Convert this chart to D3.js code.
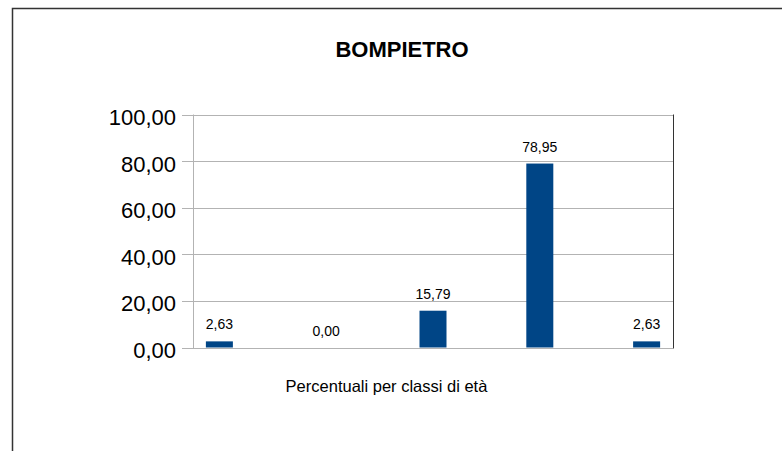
<!DOCTYPE html>
<html><head><meta charset="utf-8">
<script src="https://cdn.jsdelivr.net/npm/d3@7"></script>
<style>body{margin:0;background:#fff}svg{display:block}text{font-family:"Liberation Sans",Arial,sans-serif}</style>
</head><body><svg id="c" width="782" height="451"></svg>
<script>
const categories = ["0-14", "15-29", "30-44", "45-64", "65+"];
const values = [2.63, 0.00, 15.79, 78.95, 2.63];
const yTicks = [0, 20, 40, 60, 80, 100];
const title = "BOMPIETRO";
const xTitle = "Percentuali per classi di età";

const svg = d3.select("#c");
const L = 193, R = 673, T = 114.5, B = 347.5;
const fmt = v => d3.format(".2f")(v).replace(".", ",");

// outer frame
svg.append("path").attr("d", "M12.5,451 V8.5 H782").attr("fill", "none").attr("stroke", "#333").attr("stroke-width", 1.5);

const x = d3.scalePoint().domain(categories).range([L, R]).padding(0.247);
const y = d3.scaleLinear().domain([0, 100]).range([B, T]);

// gridlines
svg.append("g").selectAll("line").data(yTicks).join("line")
  .attr("x1", L - 11).attr("x2", R).attr("y1", d => Math.round(y(d)) + 0.5).attr("y2", d => Math.round(y(d)) + 0.5)
  .attr("stroke", "#b3b3b3").attr("stroke-width", 1);
// left axis
svg.append("line").attr("x1", L + 0.5).attr("x2", L + 0.5).attr("y1", T).attr("y2", B + 1).attr("stroke", "#b3b3b3");
// right border
svg.append("line").attr("x1", R + 0.5).attr("x2", R + 0.5).attr("y1", T).attr("y2", B + 1).attr("stroke", "#333");

// y labels
svg.append("g").selectAll("text").data(yTicks).join("text")
  .attr("x", 176).attr("y", d => y(d) + 10.5).attr("text-anchor", "end")
  .attr("font-size", 22).attr("fill", "#000").text(d => fmt(d));

// bars
const bw = 27;
svg.append("g").selectAll("rect").data(values).join("rect")
  .attr("x", (d, i) => x(categories[i]) - bw / 2).attr("width", bw)
  .attr("y", d => y(d)).attr("height", d => B - y(d))
  .attr("fill", "#004586");
// labels
svg.append("g").selectAll("text").data(values).join("text")
  .attr("x", (d, i) => x(categories[i])).attr("y", d => y(d) - 12)
  .attr("text-anchor", "middle").attr("font-size", 14).attr("fill", "#000").text(d => fmt(d));

svg.append("text").attr("x", 402).attr("y", 56.5).attr("text-anchor", "middle")
  .attr("font-size", 22).attr("font-weight", "bold").text(title);
svg.append("text").attr("x", 386.5).attr("y", 392).attr("text-anchor", "middle")
  .attr("font-size", 16.5).text(xTitle);
</script></body></html>
